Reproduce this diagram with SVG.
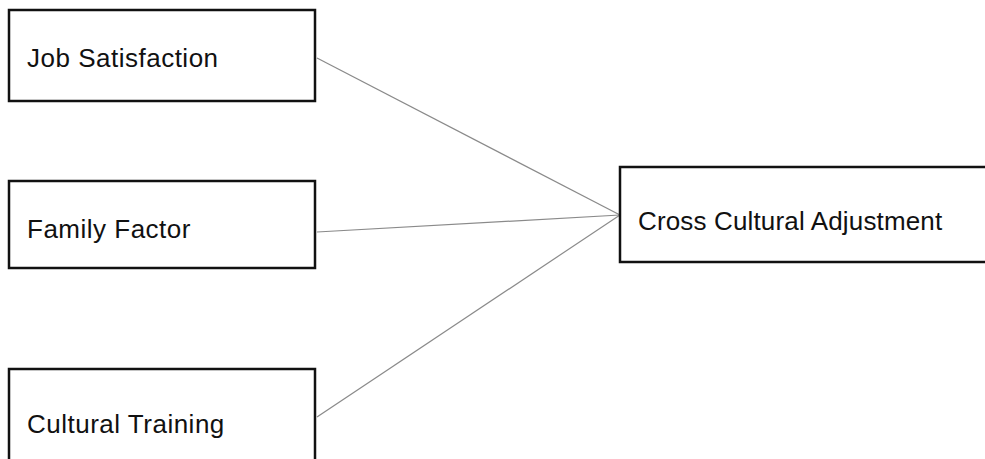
<svg xmlns="http://www.w3.org/2000/svg" width="985" height="459" viewBox="0 0 985 459">
  <style>
    .box { fill: #ffffff; stroke: #111111; stroke-width: 2.5; }
    .label { font-family: "Liberation Sans", Arial, sans-serif; font-size: 26px; fill: #111111; letter-spacing: 0.5px; }
    .label.tight { letter-spacing: 0.15px; }
    .link { stroke: #8a8a8a; stroke-width: 1.2; fill: none; }
  </style>
  <rect width="985" height="459" fill="#ffffff"/>
  <g id="connectors">
    <line class="link" x1="317" y1="58" x2="620" y2="215"/>
    <line class="link" x1="317" y1="232" x2="620" y2="215"/>
    <line class="link" x1="317" y1="417" x2="620" y2="215"/>
  </g>
  <g id="job-satisfaction">
    <rect class="box" x="9" y="10" width="306" height="91"/>
    <text class="label" x="27" y="67">Job Satisfaction</text>
  </g>
  <g id="family-factor">
    <rect class="box" x="9" y="181" width="306" height="87"/>
    <text class="label" x="27" y="238">Family Factor</text>
  </g>
  <g id="cultural-training">
    <rect class="box" x="9" y="369" width="306" height="110"/>
    <text class="label" x="27" y="433">Cultural Training</text>
  </g>
  <g id="cross-cultural-adjustment">
    <rect class="box" x="620" y="167" width="380" height="95"/>
    <text class="label tight" x="638" y="230">Cross Cultural Adjustment</text>
  </g>
</svg>
